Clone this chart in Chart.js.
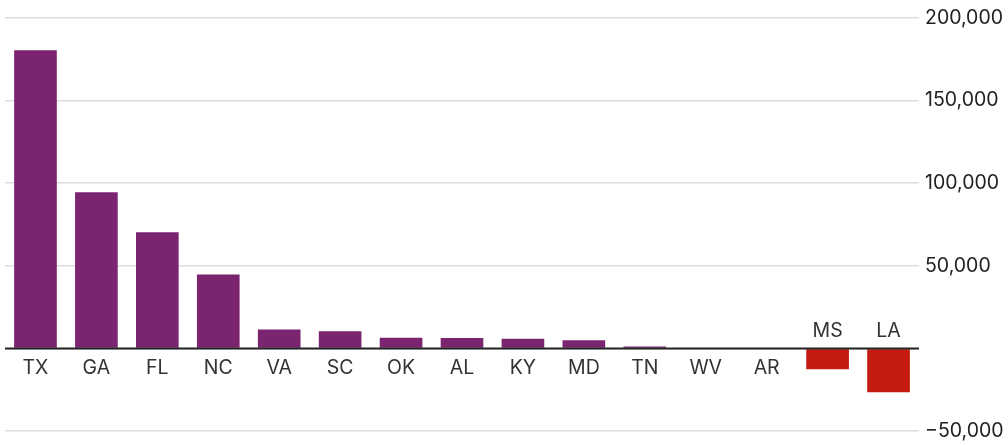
<!DOCTYPE html>
<html>
<head>
<meta charset="utf-8">
<script src="https://cdn.jsdelivr.net/npm/chart.js"></script>
<style>
  html, body { margin: 0; padding: 0; background: #fff; }
  #wrap { width: 1008px; height: 445px; position: relative; }
</style>
</head>
<body>
<div id="wrap"><canvas id="chart"></canvas></div>
<script>
// Data
const states = ['TX', 'GA', 'FL', 'NC', 'VA', 'SC', 'OK', 'AL', 'KY', 'MD', 'TN', 'WV', 'AR', 'MS', 'LA'];
const changes = [180500, 94500, 70300, 44800, 11500, 10400, 6400, 6300, 5800, 5000, 1100, 0, 0, -12600, -26500];
const yTicks = [-50000, 0, 50000, 100000, 150000, 200000];

const PURPLE = '#7b2470';
const RED = '#c41a0f';
const FONT = 'Inter, "Noto Sans", sans-serif';

// Format tick like 200,000 / −50,000 (zero has no label)
function fmt(v) {
    if (v === 0) return '';
    const s = Math.abs(v).toLocaleString('en-US');
    return v < 0 ? '\u2212' + s : s;
}

// Draw state labels next to the zero line and the zero line itself
const stateLabels = {
    id: 'stateLabels',
    afterDatasetsDraw(chart) {
        const ctx = chart.ctx;
        const y = chart.scales.y;
        const area = chart.chartArea;
        const y0 = y.getPixelForValue(0);

        ctx.save();
        ctx.strokeStyle = '#222';
        ctx.lineWidth = 2;
        ctx.beginPath();
        ctx.moveTo(area.left, y0);
        ctx.lineTo(area.right, y0);
        ctx.stroke();

        ctx.font = '19.5px ' + FONT;
        ctx.fillStyle = '#333';
        ctx.textAlign = 'center';
        ctx.textBaseline = 'middle';
        const meta = chart.getDatasetMeta(0);
        meta.data.forEach((bar, i) => {
            const v = changes[i];
            const ty = v < 0 ? y0 - 17 : y0 + 20;
            ctx.fillText(states[i], bar.x, ty);
        });
        ctx.restore();
    }
};

new Chart(document.getElementById('chart'), {
    type: 'bar',
    data: {
        labels: states,
        datasets: [{
            data: changes,
            backgroundColor: changes.map(v => v < 0 ? RED : PURPLE),
            barPercentage: 0.7,
            categoryPercentage: 1.0
        }]
    },
    options: {
        responsive: true,
        maintainAspectRatio: false,
        animation: false,
        layout: { padding: { left: 5, top: 18, bottom: 14, right: 0 } },
        plugins: {
            legend: { display: false },
            tooltip: { enabled: false }
        },
        scales: {
            x: {
                display: false,
                offset: true
            },
            y: {
                position: 'right',
                min: -50000,
                max: 200000,
                afterBuildTicks: axis => {
                    axis.ticks = yTicks.map(v => ({ value: v }));
                },
                afterFit: axis => {
                    axis.width = 89;
                },
                border: { display: false },
                grid: {
                    color: '#dedede',
                    lineWidth: 1.5,
                    drawTicks: false
                },
                ticks: {
                    padding: 6,
                    color: '#222',
                    font: { family: FONT, size: 19.5, lineHeight: 0.6 },
                    callback: v => fmt(v)
                }
            }
        }
    },
    plugins: [stateLabels]
});
</script>
</body>
</html>
